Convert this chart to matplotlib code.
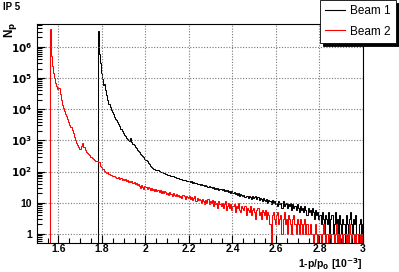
import numpy as np
import matplotlib.pyplot as plt
from matplotlib.ticker import FixedLocator, FuncFormatter, LogLocator, MultipleLocator, NullFormatter

# histogram binning in 1-p/p0 [10^-3]
bin_lo = 1.50
bin_w = 0.005

# Beam 1 (black), counts per bin starting at 1.50
beam1 = [0] * 56 + [
    3.2e6, 6e5, 3e5, 1.5e5, 9e4, 6e4, 6.5e4, 4e4, 2.8e4, 2e4,
    1.5e4, 1.2e4, 9.5e3, 8e3, 6.8e3, 5.8e3, 5e3, 4.5e3, 3.8e3, 3.3e3,
    2.8e3, 2.4e3, 2e3, 1.7e3, 1.5e3, 1.35e3, 1.2e3, 1.1e3, 1e3, 950,
    1150, 900, 780, 700, 620, 560, 500, 450, 410, 370,
    340, 310, 285, 260,
    240, 215, 190, 170, 150, 140, 132, 125, 120, 115,
    112, 108, 105, 100, 98, 94, 90, 88, 85, 82,
    80, 78, 76, 74, 72, 70, 68, 66, 64, 63,
    61, 59, 58, 56, 55, 53, 52, 51, 49, 48,
    50, 46, 48, 44, 45, 42, 43, 40, 41, 39,
    38, 40, 36, 37, 35, 36, 34, 33, 35, 31,
    32, 30, 31, 28, 30, 27, 29, 26, 28, 27,
    25, 27, 24, 26, 23, 25, 22, 24, 21, 23,
    20, 22, 19, 21, 18, 20, 17, 19, 18, 16,
    18, 15, 17, 16, 14, 17, 15, 13, 16, 14,
    15, 16, 13, 15, 12, 14, 13, 11, 14, 12,
    11, 13, 10, 12, 11, 9, 12, 10, 11, 9,
    10, 8, 11, 9, 10, 7, 11, 8, 9, 10,
    7, 9, 8, 10, 6, 9, 7, 8, 6, 9,
    7, 5, 8, 6, 7, 5, 8, 6, 4, 7,
    5, 6, 4, 7, 5, 3, 6, 4, 5, 3,
    4, 2, 5, 3, 1, 4, 3, 2, 5, 1,
    3, 4, 1, 2, 5, 2, 3, 1, 4, 2,
    1, 3, 2, 0, 4, 2, 1, 3, 5, 2,
    1, 3, 2, 4, 1, 0, 2, 3, 1, 2,
]

# Beam 2 (red)
beam2 = [0] * 12 + [
    3.8e6, 5e5, 2.5e5, 1.5e5, 1e5, 7e4, 5.5e4, 4.5e4, 4.8e4, 3e4,
    2e4, 1.4e4, 1.1e4, 9e3, 7e3, 6e3, 4.8e3, 4e3, 3.2e3, 2.7e3,
    2.1e3, 1.7e3, 1.3e3, 1e3, 800, 700, 600, 540, 520, 650,
    800, 600, 480, 420, 390, 360, 330, 300, 290, 270,
    250, 240, 225, 215, 200, 195, 150, 140, 125, 118,
    105, 100, 92, 95, 84, 80, 78, 72, 70, 74,
    66, 64, 62, 66, 58, 61, 55, 58, 52, 56,
    50, 54, 47, 51, 45, 49, 42, 46, 40, 44,
    37, 41, 35, 30, 38, 33, 28, 34,
    31, 27, 33, 29, 26, 30, 25, 28, 24, 27,
    23, 26, 22, 25, 21, 24, 20, 23, 22, 19,
    21, 18, 22, 19, 17, 20, 18, 16, 19, 17,
    18, 15, 17, 14, 18, 16, 13, 17, 15, 14,
    16, 13, 15, 12, 14, 16, 11, 14, 12, 13,
    12, 10, 13, 11, 9, 12, 10, 13, 9, 11,
    10, 12, 8, 11, 9, 10, 7, 11, 9, 8,
    10, 7, 9, 11, 6, 8, 10, 7, 9, 6,
    8, 9, 5, 8, 7, 10, 6, 5, 8, 7,
    6, 8, 4, 7, 6, 5, 8, 4, 6, 7,
    5, 3, 6, 7, 4, 5, 3, 6, 5, 4,
    6, 3, 5, 4, 2, 0, 4, 5, 3, 2,
    4, 5, 2, 3, 4, 1, 3, 5, 2, 3,
    1, 4, 3, 2, 1, 3, 4, 2, 1, 3,
    2, 1, 3, 2, 1, 2, 3, 1, 2, 1,
    1, 2, 1, 1, 0, 1, 2, 1, 0, 1,
    1, 0, 1, 2, 1, 0, 1, 1, 0, 1,
    0, 1, 1, 0, 1, 2, 0, 1, 0, 1,
    1, 0, 1, 1, 0, 1, 0, 2, 1, 0,
    1, 1, 0, 1, 0, 1, 1, 0, 1, 0,
]

labels = ['Beam 1', 'Beam 2']
colors = ['black', 'red']

plt.rcParams['font.family'] = ['Liberation Sans', 'DejaVu Sans']

fig = plt.figure(figsize=(3.99, 2.72), dpi=100)
ax = fig.add_axes([36.7 / 399, 1 - 243 / 272, (363 - 36.7) / 399, (243 - 24) / 272])

ymin, ymax = 0.51, 5.4e6
for counts, col, lab in zip([beam1, beam2], colors, labels):
    counts = np.array(counts, dtype=float)
    edges = bin_lo + bin_w * np.arange(len(counts) + 1)
    # empty bins are drawn down to the frame like ROOT does on log scale
    ax.stairs(np.where(counts > 0, counts, ymin * 0.5), edges, color=col, lw=0.75, label=lab,
              baseline=None)

ax.set_yscale('log')
ax.set_xlim(1.5, 3.0)
ax.set_ylim(ymin, ymax)

ax.xaxis.set_major_locator(MultipleLocator(0.2))
ax.xaxis.set_minor_locator(MultipleLocator(0.05))
ax.xaxis.set_major_formatter(FuncFormatter(lambda v, p: ('%.1f' % v).rstrip('0').rstrip('.')))


def ylab(v, p):
    e = int(round(np.log10(v)))
    if e == 0:
        return '1'
    if e == 1:
        return '10'
    return r'$\mathbf{10^{%d}}$' % e


ax.yaxis.set_major_locator(FixedLocator([10.0 ** k for k in range(0, 7)]))
ax.yaxis.set_major_formatter(FuncFormatter(ylab))
ax.yaxis.set_minor_locator(LogLocator(base=10, subs=np.arange(2, 10)))
ax.yaxis.set_minor_formatter(NullFormatter())

ax.tick_params(which='both', direction='in', top=False, right=False, labelsize=7.5)
ax.tick_params(axis='x', pad=1.0)
ax.tick_params(which='major', length=6, width=0.8)
ax.tick_params(which='minor', length=3.5, width=0.8)
for t in ax.get_xticklabels() + ax.get_yticklabels():
    t.set_fontweight('bold')

ax.grid(True, which='major', color='#777777', linestyle=(0, (1, 1.5)), linewidth=0.8)
for s in ax.spines.values():
    s.set_linewidth(0.8)

fig.text(363 / 399, 0.0, r'1-p/p$_{\mathbf{0}}$ [10$^{\mathbf{-3}}$]', ha='right', va='bottom',
         fontsize=7.5, fontweight='bold')
fig.text(2 / 399, 1 - 22 / 272, r'N$_{\mathbf{p}}$', rotation=90, ha='left', va='top',
         fontsize=8.5, fontweight='bold')
fig.text(3 / 399, 1 - 7 / 272, 'IP 5', ha='left', va='center', fontsize=7, fontweight='bold')

leg = fig.legend(loc='upper right', bbox_to_anchor=(396 / 399, 1.0), fontsize=8.5, frameon=True,
                 fancybox=False, shadow={'color': 'black', 'alpha': 1}, borderaxespad=0,
                 handlelength=1.7, handletextpad=0.4, labelspacing=0.7, borderpad=0.45)
leg.get_frame().set_edgecolor('black')
leg.get_frame().set_linewidth(0.6)
for h in leg.get_lines():
    h.set_linewidth(0.8)

fig.savefig('out.png', dpi=100)
